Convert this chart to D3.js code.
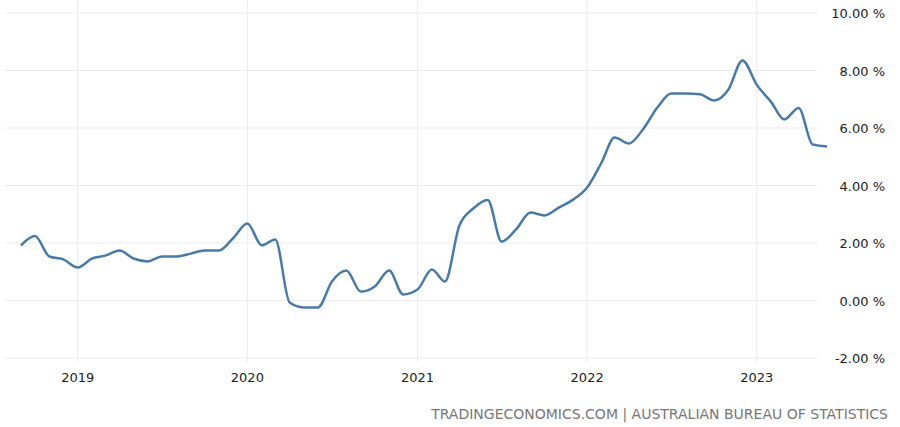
<!DOCTYPE html>
<html>
<head>
<meta charset="utf-8">
<script src="https://cdn.jsdelivr.net/npm/d3@7"></script>
<style>
  body { margin: 0; background: #fff; }
  text { font-family: "DejaVu Sans", sans-serif; }
</style>
</head>
<body>
<div id="chart"></div>
<script>
const WIDTH = 900, HEIGHT = 427;

// monthly, Sep 2018 .. Jun 2023
const startMonth = new Date(2018, 8, 1);
const values = [
  1.92, 2.24, 1.53, 1.43, 1.15, 1.46, 1.56, 1.74, 1.46, 1.36, 1.53, 1.53,
  1.63, 1.74, 1.74, 2.16, 2.68, 1.92, 2.12, -0.07, -0.24, -0.24, 0.66, 1.04,
  0.31, 0.49, 1.04, 0.21, 0.38, 1.08, 0.66, 2.6, 3.2, 3.5, 2.05, 2.47,
  3.06, 2.96, 3.23, 3.5, 3.93, 4.8, 5.67, 5.46, 5.95, 6.71, 7.2, 7.2,
  7.17, 6.96, 7.34, 8.35, 7.5, 6.9, 6.3, 6.7, 5.43, 5.36
];
const yTicks = [-2, 0, 2, 4, 6, 8, 10];
const xTicks = [2019, 2020, 2021, 2022, 2023];

const data = values.map((v, i) => ({
  date: d3.timeMonth.offset(startMonth, i),
  value: v
}));

const svg = d3.select("#chart").append("svg")
  .attr("width", WIDTH).attr("height", HEIGHT);

const x = d3.scaleTime()
  .domain([new Date(2018, 8, 1), new Date(2023, 5, 1)])
  .range([21, 827]);
const y = d3.scaleLinear().domain([-2, 10]).range([358, 13]);

// GRID
svg.append("g")
  .selectAll("line")
  .data(yTicks)
  .join("line")
  .attr("x1", 5).attr("x2", 818)
  .attr("y1", (d) => y(d)).attr("y2", (d) => y(d))
  .attr("stroke", "#ececec");

svg.append("g")
  .selectAll("line")
  .data(xTicks)
  .join("line")
  .attr("x1", (d) => x(new Date(d, 0, 1))).attr("x2", (d) => x(new Date(d, 0, 1)))
  .attr("y1", 0).attr("y2", 362)
  .attr("stroke", "#ececec");

// AXIS LABELS
svg.append("g")
  .selectAll("text")
  .data(yTicks)
  .join("text")
  .attr("x", 885).attr("y", (d) => y(d) + 5)
  .attr("text-anchor", "end")
  .attr("font-size", "13px")
  .style("fill", "#222")
  .text((d) => d.toFixed(2) + " %");

svg.append("g")
  .selectAll("text")
  .data(xTicks)
  .join("text")
  .attr("x", (d) => x(new Date(d, 0, 1))).attr("y", 382)
  .attr("text-anchor", "middle")
  .attr("font-size", "13px")
  .style("fill", "#222")
  .text((d) => d);

// LINE
const line = d3.line()
  .x((d) => x(d.date))
  .y((d) => y(d.value))
  .curve(d3.curveMonotoneX);

svg.append("path")
  .datum(data)
  .attr("d", line)
  .attr("fill", "none")
  .attr("stroke", "#4a7ba6")
  .attr("stroke-width", 2.5);

// SOURCE
svg.append("text")
  .attr("x", 888).attr("y", 419)
  .attr("text-anchor", "end")
  .attr("font-size", "14px")
  .style("fill", "#777")
  .text("TRADINGECONOMICS.COM | AUSTRALIAN BUREAU OF STATISTICS");
</script>
</body>
</html>
